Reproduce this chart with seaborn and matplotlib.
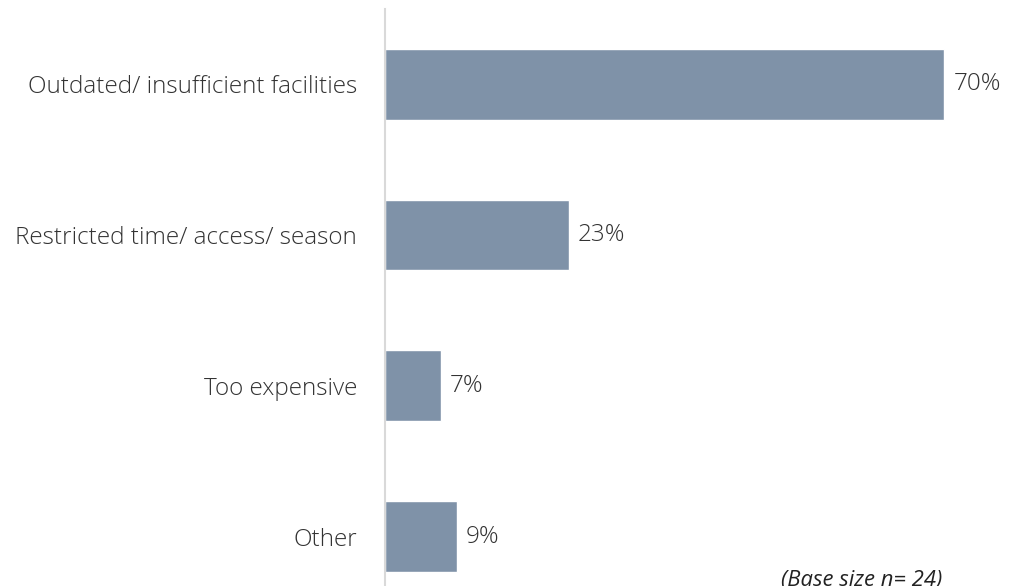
import matplotlib
matplotlib.use("Agg")
import matplotlib.pyplot as plt
import seaborn as sns
import pandas as pd

categories = ["Outdated/ insufficient facilities", "Restricted time/ access/ season",
              "Too expensive", "Other"]
values = [70, 23, 7, 9]
value_labels = ["70%", "23%", "7%", "9%"]
footnote = "(Base size n= 24)"

sns.set_theme(style="white")
plt.rcParams["font.family"] = ["Open Sans", "DejaVu Sans"]

df = pd.DataFrame({"category": categories, "value": values})

fig = plt.figure(figsize=(10.25, 5.86), dpi=100)
ax = fig.add_axes([385 / 1025, 0.0, 640 / 1025, 1 - 9 / 586])

sns.barplot(data=df, x="value", y="category", orient="h", color="#7f92a8",
            saturation=1, width=0.47, ax=ax)

ax.set_xlim(0, 80.1)
ax.set_ylim(3.325, -0.497)
ax.set_xlabel("")
ax.set_ylabel("")
ax.set_xticks([])
for s in ["top", "right", "bottom"]:
    ax.spines[s].set_visible(False)
ax.spines["left"].set_color("#d9d9d9")
ax.spines["left"].set_linewidth(1.5)

ax.tick_params(axis="y", length=0, pad=20)
for t in ax.get_yticklabels():
    t.set_fontsize(17.5)
    t.set_color("#333333")
    t.set_fontweight("light")

for i, (v, lab) in enumerate(zip(values, value_labels)):
    ax.annotate(lab, xy=(v, i), xytext=(6.5, 0), textcoords="offset points",
                va="center", ha="left", fontsize=17.5, color="#333333",
                fontweight="light")

fig.text(862 / 1025, 1 - 570 / 586, footnote, ha="center", va="top",
         fontsize=15.8, style="italic", color="#222222")

fig.savefig("out.png", dpi=100)
